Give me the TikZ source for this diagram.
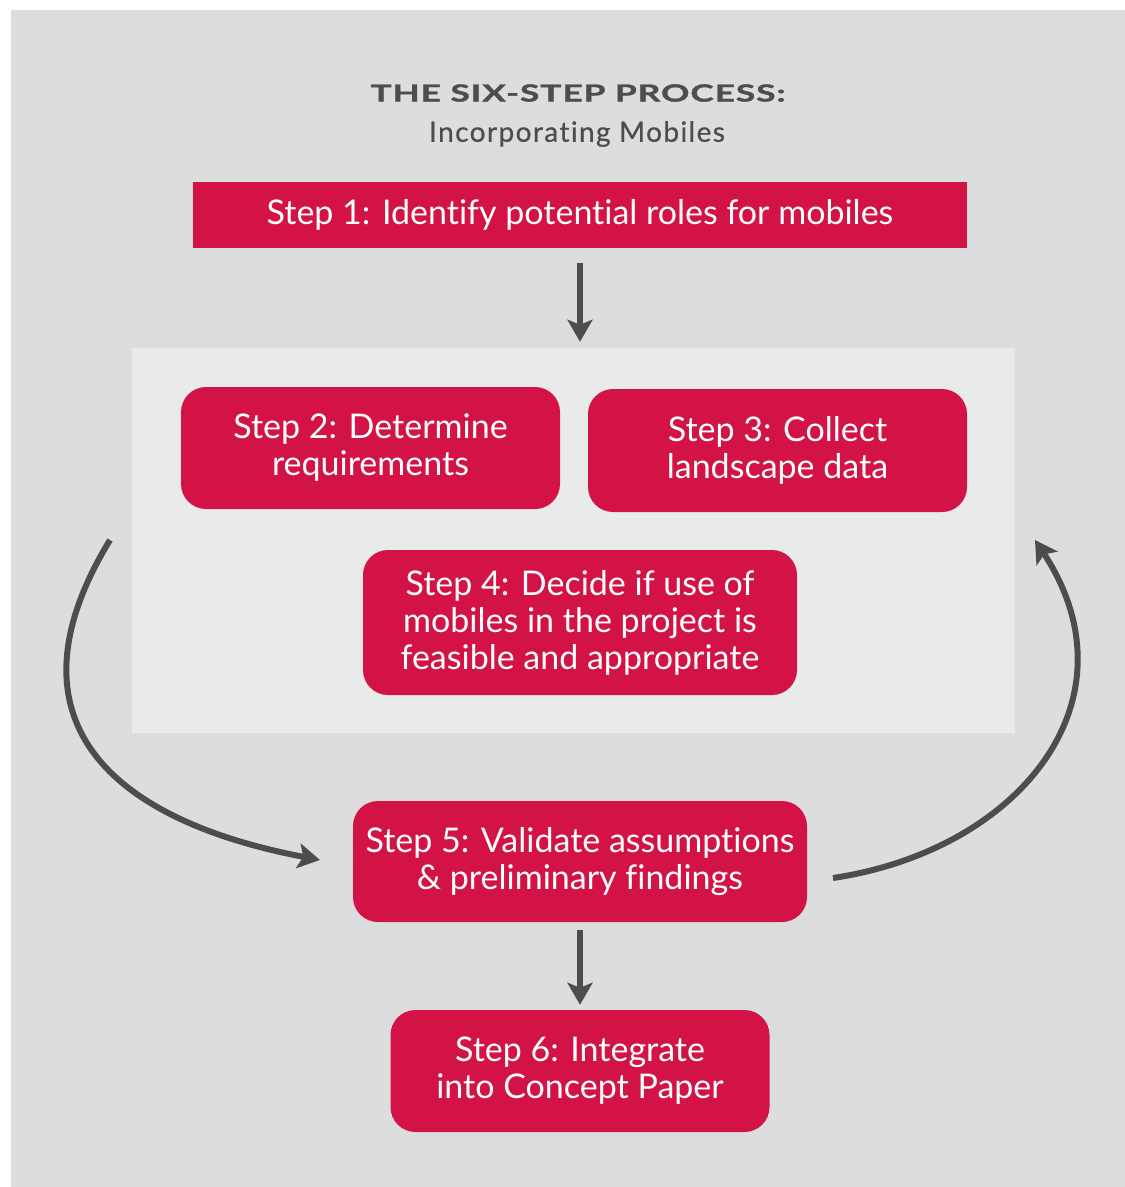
\documentclass[tikz,border=0pt]{standalone}
\usepackage{fontspec}
\setmainfont{Lato}[Ligatures=NoCommon]
\newfontfamily\titlefont{Lato}[Ligatures=NoCommon, FakeStretch=1.5, LetterSpace=4, FakeBold=1.5]
\newfontfamily\subtitlefont{Lato}[Ligatures=NoCommon, LetterSpace=5, FakeBold=0.6]
\usetikzlibrary{arrows.meta}

\definecolor{stepred}{RGB}{211,18,69}
\definecolor{backgray}{RGB}{220,221,223}
\definecolor{panelgray}{RGB}{233,235,234}
\definecolor{arrowgray}{RGB}{77,77,79}

\tikzset{
    stepbox/.style={fill=stepred, text=white, rounded corners=25pt, align=center,
        font=\fontsize{34}{37}\selectfont, inner sep=0pt},
    flowarrow/.style={draw=arrowgray, line width=6pt,
        -{Stealth[length=22pt, width=25pt, inset=5pt]}}
}

\begin{document}
\begin{tikzpicture}[x=1pt, y=-1pt]
                \useasboundingbox (0,0) rectangle (1125,1187);
                \fill[backgray] (11,10) rectangle (1125,1187);

                % title
                \node[text=arrowgray, font=\fontsize{23.5}{28}\titlefont\bfseries] (title) at (578,93) {THE SIX-STEP PROCESS:};
                \node[text=arrowgray, font=\fontsize{28}{34}\subtitlefont] (subtitle) at (577,134) {Incorporating Mobiles};

                % boxes
                \node[fill=panelgray, minimum width=883pt, minimum height=385pt] (panel) at (573.5,540.5) {};
                \node[stepbox, rounded corners=0pt, minimum width=774pt, minimum height=66pt] (step1) at (580,215) {Step 1: Identify potential roles for mobiles};
                \node[stepbox, minimum width=379pt, minimum height=122pt] (step2) at (370.5,448) {Step 2: Determine\\requirements};
                \node[stepbox, minimum width=379pt, minimum height=123pt] (step3) at (777.5,450.5) {Step 3: Collect\\landscape data};
                \node[stepbox, minimum width=434pt, minimum height=145pt] (step4) at (580,622.5) {Step 4: Decide if use of\\mobiles in the project is\\feasible and appropriate};
                \node[stepbox, minimum width=454pt, minimum height=121pt] (step5) at (580,861.5) {Step 5: Validate assumptions\\\& preliminary findings};
                \node[stepbox, minimum width=379pt, minimum height=122pt] (step6) at (580,1071) {Step 6: Integrate\\into Concept Paper};

                % loop ends
                \coordinate (loopLa) at (110,540);
                \coordinate (loopLb) at (320,860);
                \coordinate (loopRa) at (833,878);
                \coordinate (loopRb) at (1035,540);

                \draw[flowarrow, shorten <=15pt, shorten >=6pt] (step1.south) -- (step1.south |- panel.north);
                \draw[flowarrow, shorten <=8pt, shorten >=5pt] (step5.south) -- (step6.north);
                \draw[flowarrow] (loopLa) .. controls (0,720) and (110,820) .. (loopLb);
                \draw[flowarrow] (loopRa) .. controls (1020,850) and (1140,700) .. (loopRb);
            \end{tikzpicture}
\end{document}
